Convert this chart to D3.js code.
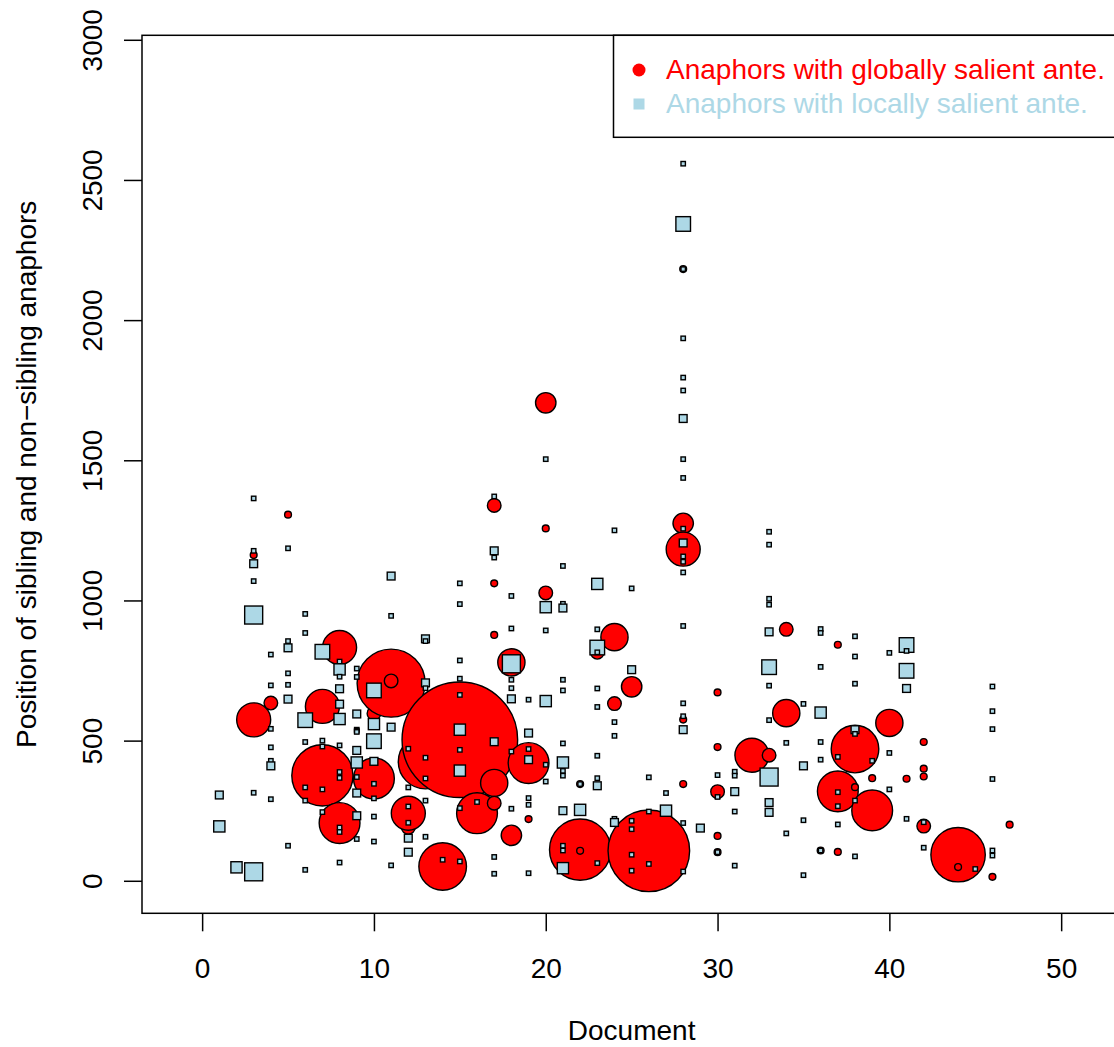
<!DOCTYPE html>
<html lang="en">
<head>
  <meta charset="UTF-8">
  <title>Sibling and non-sibling anaphors</title>
  <style>
    body { margin: 0; background: #fff; }
    text { font-family: "Liberation Sans", Arial, Helvetica, sans-serif; }
  </style>
</head>
<body>
  <script src="https://d3js.org/d3.v7.min.js"></script>
  <script>
    // anaphors with globally salient antecedent (red circles), one row per document
    const globalDocs = [3, 4, 5, 7, 8, 10, 11, 12, 13, 14, 15, 16, 17, 18, 19, 20, 22, 23, 24, 25, 26, 28,
      30, 32, 33, 34, 36, 37, 38, 39, 40, 41, 42, 44, 46, 47]
    const globalPos = [
      [574, 1162], [634], [1306], [622, 376], [832, 206], [597, 365], [705, 713], [190, 241], [425], [51],
      [503], [241], [1339, 1061, 877, 349, 277], [779, 162], [420, 220], [1705, 1257, 1027], [111, 107, 345],
      [815], [869, 632], [692], [107], [2182, 1275, 1183, 575, 345],
      [672, 477, 318, 160, 102], [448], [448], [897, 598], [108], [842, 319, 103], [470, 334], [366, 251],
      [563], [364], [495, 400, 372, 195], [93, 49], [14], [200]
    ]
    const globalCount = [
      [5, 1], [2], [1], [5, 9], [5, 6], [2, 6], [10, 2], [2, 5], [8], [7],
      [17], [6], [2, 1, 1, 4, 2], [4, 3], [6, 1], [3, 1, 2], [9, 1, 1],
      [2], [4, 2], [3], [12], [1, 3, 5, 1, 1],
      [1, 1, 2, 1, 1], [5], [2], [2, 4], [1], [1, 6, 1], [7, 1], [1, 6],
      [4], [1], [1, 1, 1, 2], [8, 1], [1], [1]
    ]

    // anaphors with locally salient antecedent (light blue squares)
    const localDocs = [1, 2, 3, 4, 5, 6, 7, 8, 9, 10, 11, 12, 13, 14, 15, 16, 17, 18, 19, 20, 21, 22, 23, 24,
      25, 26, 27, 28, 29, 30, 31, 33, 34, 35, 36, 37, 38, 39, 40, 41, 42, 45, 46]
    const localPos = [
      [306, 194],
      [48],
      [1364, 1177, 1131, 1069, 948, 314, 32],
      [807, 697, 542, 476, 428, 410, 291],
      [1186, 855, 831, 740, 699, 648, 125],
      [952, 884, 573, 495, 333, 286, 39],
      [817, 500, 479, 326, 245],
      [782, 754, 728, 685, 630, 577, 483, 388, 367, 190, 174, 65],
      [757, 727, 595, 539, 535, 531, 465, 422, 370, 313, 232, 149],
      [679, 559, 498, 426, 346, 294, 229, 140],
      [1087, 945, 548, 55],
      [471, 333, 265, 207, 152, 102],
      [863, 855, 706, 687, 439, 365, 286, 157],
      [75],
      [1061, 987, 786, 721, 663, 539, 467, 393, 259, 69],
      [281],
      [1371, 1177, 1153, 496, 85, 25],
      [1016, 900, 788, 774, 717, 687, 649, 461, 257],
      [646, 527, 470, 432, 295, 271, 27],
      [1504, 976, 893, 641, 414, 354],
      [1123, 988, 973, 717, 679, 490, 422, 392, 375, 250, 125, 108, 45],
      [345, 253],
      [1059, 897, 832, 815, 686, 620, 446, 366, 339, 63],
      [1250, 566, 517, 221, 208],
      [1043, 753, 214, 184, 93, 36],
      [369, 247, 60],
      [313, 250],
      [2558, 2343, 2182, 1935, 1795, 1749, 1649, 1504, 1437, 1256, 1205, 1157, 1138, 1100, 909, 633, 587, 539, 206, 33],
      [188],
      [377, 299, 102],
      [389, 375, 318, 247, 54],
      [1245, 1199, 1006, 985, 888, 762, 696, 573, 370, 279, 244],
      [492, 169],
      [631, 410, 216, 20],
      [898, 884, 763, 600, 495, 432, 108],
      [442, 316, 266, 201],
      [872, 800, 703, 539, 524, 286, 87],
      [428],
      [813, 456, 326],
      [841, 820, 749, 686, 221],
      [209, 118],
      [42],
      [693, 605, 541, 363, 108, 90]
    ]
    const localCount = [
      [2, 3],
      [3],
      [1, 1, 2, 1, 5, 1, 5],
      [1, 1, 1, 1, 1, 2, 1],
      [1, 1, 2, 1, 1, 2, 1],
      [1, 1, 4, 1, 1, 1, 1],
      [4, 1, 1, 1, 1],
      [1, 3, 1, 2, 2, 3, 1, 1, 1, 1, 1, 1],
      [1, 1, 2, 1, 1, 1, 2, 3, 1, 2, 2, 1],
      [4, 3, 4, 2, 1, 1, 1, 1],
      [2, 1, 2, 1],
      [1, 1, 1, 1, 2, 2],
      [2, 1, 2, 1, 1, 1, 1, 1],
      [1],
      [1, 1, 1, 1, 1, 3, 1, 3, 1, 1],
      [1],
      [1, 2, 1, 2, 1, 1],
      [1, 1, 1, 5, 1, 1, 2, 1, 1],
      [1, 2, 1, 2, 1, 1, 1],
      [1, 3, 1, 3, 1, 1],
      [1, 1, 2, 1, 1, 1, 3, 1, 1, 2, 1, 1, 3],
      [1, 3],
      [3, 1, 4, 1, 1, 1, 1, 1, 2, 1],
      [1, 1, 1, 1, 2],
      [1, 2, 1, 1, 1, 1],
      [1, 1, 1],
      [1, 3],
      [1, 4, 1, 1, 1, 1, 2, 1, 1, 1, 2, 1, 1, 1, 1, 1, 1, 2, 1, 1],
      [2],
      [1, 1, 1],
      [1, 1, 2, 1, 1],
      [1, 1, 1, 1, 2, 4, 1, 1, 5, 2, 2],
      [1, 1],
      [1, 2, 1, 1],
      [1, 1, 1, 3, 1, 1, 1],
      [1, 1, 1, 1],
      [1, 1, 1, 2, 1, 1, 1],
      [1],
      [1, 1, 1],
      [4, 1, 4, 2, 1],
      [1, 1],
      [1],
      [1, 1, 1, 1, 1, 1]
    ]

    const xTicks = [0, 10, 20, 30, 40, 50]
    const yTicks = [0, 500, 1000, 1500, 2000, 2500, 3000]
    const legendLabels = ['Anaphors with globally salient ante.', 'Anaphors with locally salient ante.']

    const flatten = (docs, pos, cnt) => docs.flatMap((d, i) => pos[i].map((p, j) => ({ doc: d, pos: p, n: cnt[i][j] })))
    const globals = flatten(globalDocs, globalPos, globalCount)
    const locals = flatten(localDocs, localPos, localCount)

    const width = 1114
    const height = 1047
    const box = { left: 142, top: 35.3, right: 1121.3, bottom: 913.3 }

    const x = d3.scaleLinear().domain([-3.5, 53.5]).range([box.left, box.right])
    const y = d3.scaleLinear().domain([-116, 3016]).range([box.bottom, box.top])
    const radius = d3.scaleLinear().domain([0, 1]).range([0, 3.4])
    const side = d3.scaleLinear().domain([0, 1]).range([1, 4.4])

    const svg = d3.select('body')
      .append('svg')
      .attr('width', width)
      .attr('height', height)
      .style('display', 'block')

    svg.append('rect')
      .attr('width', width)
      .attr('height', height)
      .attr('fill', '#fff')

    // points
    svg.append('g')
      .selectAll('circle')
      .data(globals)
      .enter()
      .append('circle')
      .attr('cx', d => x(d.doc))
      .attr('cy', d => y(d.pos))
      .attr('r', d => radius(d.n))
      .attr('fill', 'red')
      .attr('stroke', 'black')
      .attr('stroke-width', 1.4)

    svg.append('g')
      .selectAll('rect')
      .data(locals)
      .enter()
      .append('rect')
      .attr('x', d => x(d.doc) - side(d.n) / 2)
      .attr('y', d => y(d.pos) - side(d.n) / 2)
      .attr('width', d => side(d.n))
      .attr('height', d => side(d.n))
      .attr('fill', 'lightblue')
      .attr('stroke', 'black')
      .attr('stroke-width', 1.4)

    // axes
    svg.append('g')
      .attr('transform', `translate(0,${box.bottom})`)
      .call(d3.axisBottom(x).tickValues(xTicks).tickFormat(d3.format('d')).tickSize(18).tickPadding(27))
    const yAxis = svg.append('g')
      .attr('transform', `translate(${box.left},0)`)
      .call(d3.axisLeft(y).tickValues(yTicks).tickFormat(d3.format('d')).tickSize(18))

    svg.selectAll('.domain').remove()
    svg.selectAll('.tick line').attr('stroke', 'black').attr('stroke-width', 1.5)
    svg.selectAll('.tick text')
      .attr('font-family', '"Liberation Sans", Arial, sans-serif')
      .attr('font-size', 28)
      .attr('fill', 'black')

    yAxis.selectAll('.tick text')
      .attr('x', null)
      .attr('dy', null)
      .attr('text-anchor', 'middle')
      .attr('transform', 'translate(-40,0) rotate(-90)')

    svg.append('rect')
      .attr('x', box.left)
      .attr('y', box.top)
      .attr('width', box.right - box.left)
      .attr('height', box.bottom - box.top)
      .attr('fill', 'none')
      .attr('stroke', 'black')
      .attr('stroke-width', 1.5)

    svg.append('text')
      .attr('x', (box.left + box.right) / 2)
      .attr('y', 1040)
      .attr('text-anchor', 'middle')
      .attr('font-size', 28)
      .text('Document')

    svg.append('text')
      .attr('transform', `translate(36,${(box.top + box.bottom) / 2}) rotate(-90)`)
      .attr('text-anchor', 'middle')
      .attr('font-size', 28)
      .text('Position of sibling and non\u2212sibling anaphors')

    // legend
    const legend = svg.append('g')
    legend.append('rect')
      .attr('x', 613.5)
      .attr('y', box.top)
      .attr('width', box.right - 613.5)
      .attr('height', 102)
      .attr('fill', 'white')
      .attr('stroke', 'black')
      .attr('stroke-width', 1.5)
    legend.append('circle')
      .attr('cx', 639)
      .attr('cy', 70)
      .attr('r', 6.5)
      .attr('fill', 'red')
    legend.append('rect')
      .attr('x', 639 - 5.5)
      .attr('y', 104 - 5.5)
      .attr('width', 11)
      .attr('height', 11)
      .attr('fill', 'lightblue')
    legend.selectAll('text.lab')
      .data(legendLabels)
      .enter()
      .append('text')
      .attr('class', 'lab')
      .attr('x', 666)
      .attr('y', (d, i) => 79 + i * 33.7)
      .attr('font-size', 28)
      .attr('fill', (d, i) => i === 0 ? 'red' : 'lightblue')
      .text(d => d)
  </script>
</body>
</html>
